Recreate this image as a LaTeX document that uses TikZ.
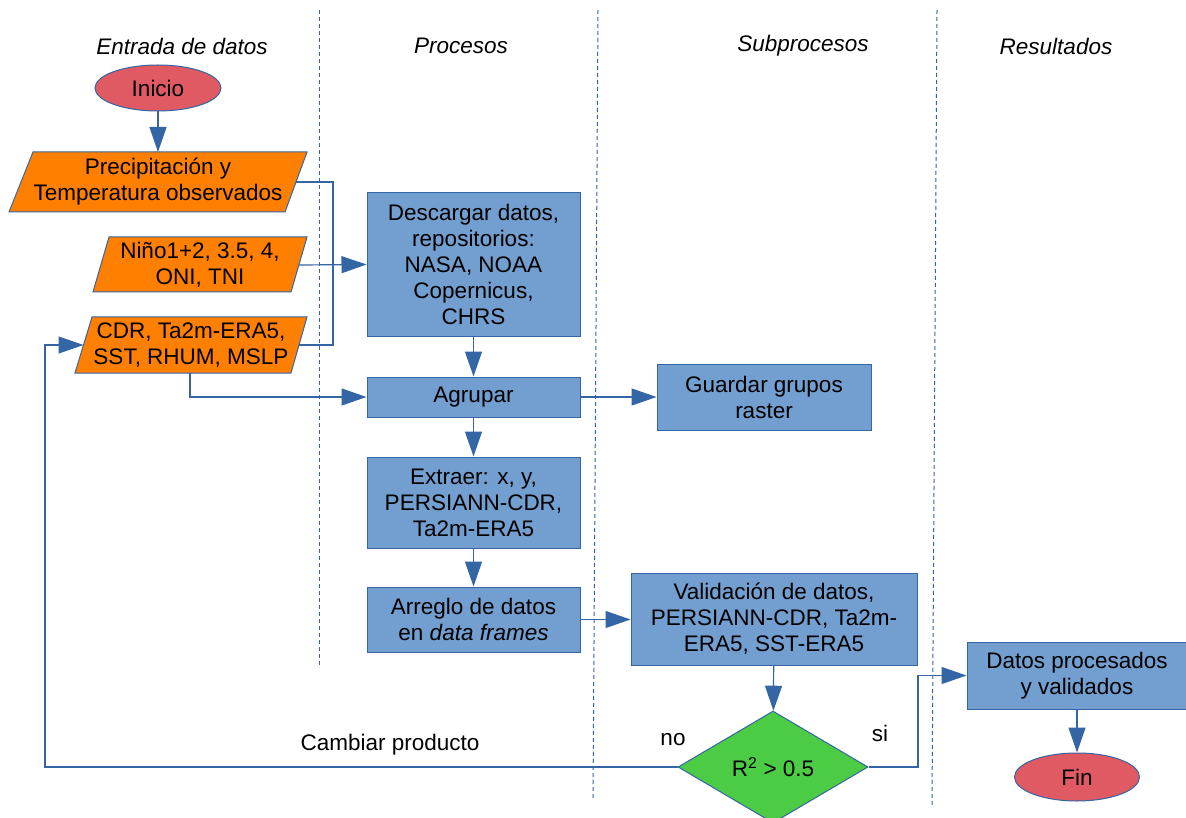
\documentclass[tikz,border=0pt]{standalone}
\usepackage{fontspec}
\setmainfont{Liberation Sans}
\usetikzlibrary{arrows.meta,shapes.geometric}
\definecolor{lblue}{HTML}{729FCF}
\definecolor{dblue}{HTML}{3465A4}
\definecolor{orng}{HTML}{FF8000}
\definecolor{rojo}{HTML}{E05A64}
\definecolor{verde}{HTML}{4CCB44}
\begin{document}
\begin{tikzpicture}[x=1pt,y=-1pt,
  txt/.style={font=\fontsize{22.5}{26}\selectfont, align=center, text=black},
  hdr/.style={font=\fontsize{22.5}{26}\selectfont\itshape, text=black},
  box/.style={draw=dblue, fill=lblue, line width=1pt, rectangle, txt, inner sep=0pt},
  para/.style={draw=dblue, fill=orng, line width=1pt},
  conn/.style={draw=dblue, line width=1.2pt},
  arr/.style={conn, -{Triangle[length=25pt,width=17pt]}},
  lane/.style={draw=dblue, line width=1pt, dash pattern=on 4pt off 3pt},
  term/.style={ellipse, draw=dblue, fill=rojo, line width=1pt, txt, inner sep=0pt},
  dec/.style={diamond, draw=dblue, fill=verde, line width=1pt, txt, inner sep=0pt}]
\useasboundingbox (0,0) rectangle (1186,818);
\fill[white] (0,0) rectangle (1186,818);

% swimlane separators
\draw[lane] (319,10) -- (319,668);
\draw[lane] (598,10) -- (593,800);
\draw[lane] (937,10) -- (932,805);

% headers
\node[hdr] (h1) at (182,46) {Entrada de datos};
\node[hdr] (h2) at (461,46) {Procesos};
\node[hdr] (h3) at (803,46) {Subprocesos};
\node[hdr] (h4) at (1056,46) {Resultados};

% terminals
\node[term, minimum width=126pt, minimum height=46pt] (ini) at (158,88) {Inicio};
\node[term, minimum width=125pt, minimum height=48pt] (fin) at (1077,777) {Fin};

% input parallelograms
\draw[para] (33,152) -- (307,152) -- (285,212) -- (9,212) -- cycle;
\node[txt] (p1) at (158,182) {Precipitación y\\Temperatura observados};
\coordinate (p1n) at (158,152);
\coordinate (p1e) at (296,182);

\draw[para] (109,237) -- (307,237) -- (291,292) -- (93,292) -- cycle;
\node[txt] (p2) at (200,264.5) {Niño1+2, 3.5, 4,\\ONI, TNI};
\coordinate (p2e) at (299,265);

\draw[para] (92,317) -- (307,317) -- (291,373) -- (75,373) -- cycle;
\node[txt] (p3) at (191,345) {CDR, Ta2m-ERA5,\\SST, RHUM, MSLP};
\coordinate (p3e) at (299,345);
\coordinate (p3w) at (83.5,345);
\coordinate (p3s) at (190,373);

% process boxes
\node[box, minimum width=213pt, minimum height=143pt] (desc) at (473.5,264.5)
  {Descargar datos,\\repositorios:\\NASA, NOAA\\Copernicus,\\CHRS};
\node[box, minimum width=213pt, minimum height=40pt] (agr) at (473.5,397) {Agrupar};
\node[box, minimum width=214pt, minimum height=66pt] (guar) at (764,397) {Guardar grupos\\raster};
\node[box, minimum width=213pt, minimum height=91pt] (ext) at (473.5,502.5)
  {Extraer: x, y,\\PERSIANN-CDR,\\Ta2m-ERA5};
\node[box, minimum width=213pt, minimum height=65pt] (arre) at (473.5,619.5)
  {Arreglo de datos\\en \textit{data frames}};
\node[box, minimum width=286pt, minimum height=92pt] (val) at (774,619)
  {Validación de datos,\\PERSIANN-CDR, Ta2m-\\ERA5, SST-ERA5};
\node[box, minimum width=220pt, minimum height=67pt] (datos) at (1077,675.5)
  {Datos procesados\\y validados};
\node[dec, minimum width=190pt, minimum height=112pt] (dia) at (773,767) {R\textsuperscript{2} > 0.5};

% connectors
\draw[arr] (ini) -- (p1n);
\draw[conn] (p1e) -- (333,182) -- (333,345) -- (p3e);
\draw[arr] (p2e) -- (desc.west);
\draw[arr] (p3s) |- (agr.west);
\draw[arr] (desc) -- (agr);
\draw[arr] (agr) -- (guar);
\draw[arr] (agr) -- (ext);
\draw[arr] (ext) -- (arre);
\draw[arr] (arre.east) -- (arre.east -| val.west);
\draw[arr] (val) -- (dia);
\draw[arr] (dia.east) -- (918,767) -- (918,675.5) -- (datos.west);
\draw[arr] (datos) -- (fin);
\draw[arr] (dia.west) -| (45,345) -- (p3w);

% labels
\node[txt] (lcam) at (390,745) {Cambiar producto};
\node[txt] (lno) at (673,740) {no};
\node[txt] (lsi) at (880,733) {si};
\end{tikzpicture}
\end{document}
